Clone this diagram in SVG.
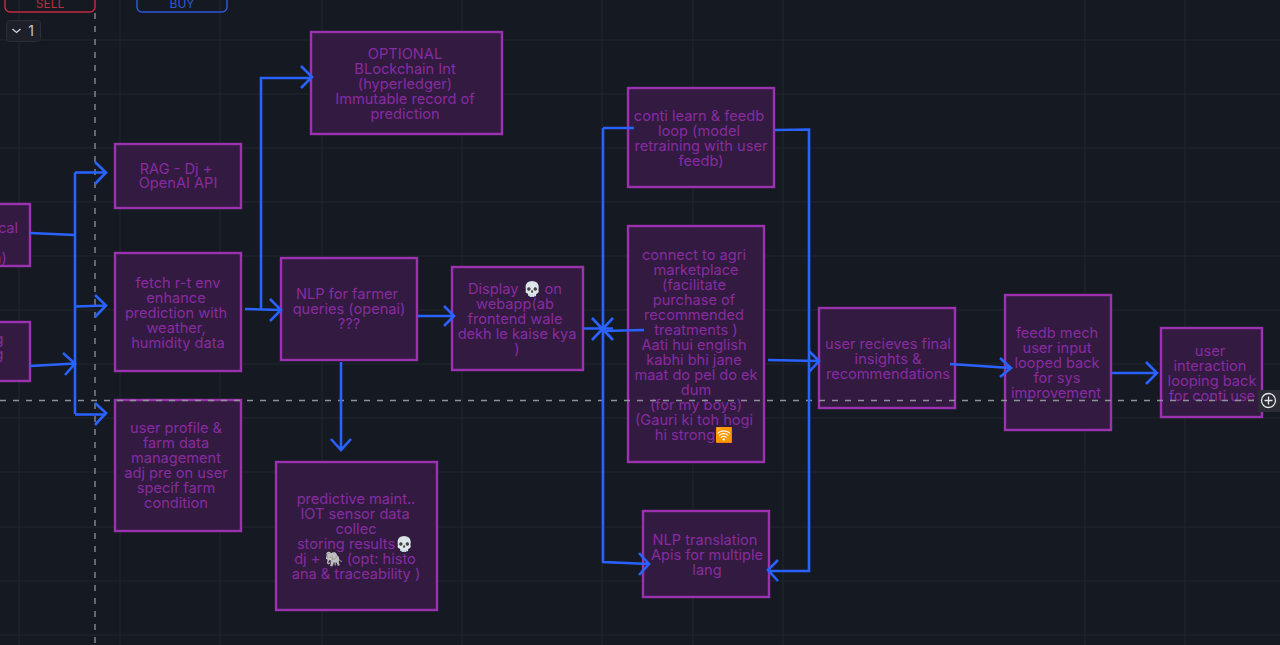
<svg xmlns="http://www.w3.org/2000/svg" width="1280" height="645" viewBox="0 0 1280 645">
<style>
text{font-family:Inter,"Noto Sans",sans-serif}
.g{stroke:#22262f;stroke-width:1;fill:none}
.n rect{fill:#321a40;stroke:#9b33b1;stroke-width:2.400}
.n text{fill:#882ca0;font-size:14.600px;text-anchor:middle}
.c path{fill:none;stroke:#2962ff;stroke-width:2.600;stroke-linejoin:miter}
.d{stroke:#8f9299;stroke-width:1.300;stroke-dasharray:6 7;fill:none}
</style>
<rect width="1280" height="645" fill="#151921"/>
<g id="grid">
<path class="g" d="M19 0V645M120 0V645M220 0V645M322 0V645M462 0V645M602 0V645M693 0V645M783 0V645M1085 0V645M1185 0V645"/>
<path class="g" d="M0 40H1280M0 94H1280M0 148H1280M0 202H1280M0 256H1280M0 310H1280M0 364H1280M0 418H1280M0 472H1280M0 527H1280M0 581H1280M0 635H1280"/>
</g>
<g id="sell"><rect x="5" y="-16" width="90" height="28" rx="5" fill="none" stroke="#c22a43" stroke-width="1.500"/><text x="50" y="8" font-size="12" fill="#c22a43" text-anchor="middle">SELL</text></g>
<g id="buy"><rect x="137" y="-16" width="90" height="28" rx="5" fill="none" stroke="#2d5ad6" stroke-width="1.500"/><text x="182" y="8" font-size="12" fill="#2d5ad6" text-anchor="middle">BUY</text></g>
<g id="collapse"><rect x="6.500" y="20.500" width="34" height="21" rx="3" fill="#1d2028" stroke="#2b2e37"/><path d="M12.500 29l4 3.500 4-3.500" fill="none" stroke="#d1d4dc" stroke-width="1.300"/><text x="31" y="36" font-size="14" fill="#c4c7cf" text-anchor="middle">1</text></g>
<g id="nodes">
<g id="n-historical" class="n"><rect x="-40" y="204" width="70" height="62"/><text x="8" y="233">cal</text><text x="0" y="263">a)</text></g>
<g id="n-ml" class="n"><rect x="-40" y="322" width="70" height="59"/><text x="-1" y="344">g</text><text x="-1" y="359">g</text></g>
<g id="n-rag" class="n"><rect x="115" y="144" width="126" height="64"/><text x="176" y="174">RAG - Dj +</text><text x="178" y="188">OpenAI API</text></g>
<g id="n-fetch" class="n"><rect x="115" y="253" width="126" height="118"/><text x="178" y="288">fetch r-t env</text><text x="176" y="303">enhance</text><text x="176" y="318">prediction with</text><text x="176" y="333">weather,</text><text x="178" y="348">humidity data</text></g>
<g id="n-profile" class="n"><rect x="115" y="400" width="126" height="131"/><text x="176" y="433">user profile &amp;</text><text x="176" y="448">farm data</text><text x="176" y="463">management</text><text x="176" y="478">adj pre on user</text><text x="176" y="493">specif farm</text><text x="176" y="508">condition</text></g>
<g id="n-blockchain" class="n"><rect x="311" y="32" width="191" height="102"/><text x="405" y="59">OPTIONAL</text><text x="405" y="74">BLockchain Int</text><text x="405" y="89">(hyperledger)</text><text x="405" y="104">Immutable record of</text><text x="405" y="119">prediction</text></g>
<g id="n-nlp" class="n"><rect x="281" y="258" width="136" height="102"/><text x="347" y="299">NLP for farmer</text><text x="349" y="314">queries (openai)</text><text x="349" y="329">???</text></g>
<g id="n-maint" class="n"><rect x="276" y="462" width="161" height="148"/><text x="356" y="504">predictive maint..</text><text x="355" y="519">IOT sensor data</text><text x="356" y="534">collec</text><text x="355" y="549">storing results💀</text><text x="355" y="564">dj + 🐘  (opt: histo</text><text x="356" y="579">ana &amp; traceability )</text></g>
<g id="n-display" class="n"><rect x="452" y="267" width="131" height="103"/><text x="515" y="294">Display 💀 on</text><text x="515" y="309">webapp(ab</text><text x="515" y="324">frontend wale</text><text x="517" y="339">dekh le kaise kya</text><text x="517" y="354">)</text></g>
<g id="n-conti" class="n"><rect x="628" y="88" width="146" height="99"/><text x="699" y="121">conti learn &amp; feedb</text><text x="699" y="136">loop (model</text><text x="701" y="151">retraining with user</text><text x="701" y="166">feedb)</text></g>
<g id="n-market" class="n"><rect x="628" y="226" width="136" height="236"/><text x="694" y="260">connect to agri</text><text x="696" y="275">marketplace</text><text x="694" y="290">(facilitate</text><text x="694" y="305">purchase of</text><text x="694" y="320">recommended</text><text x="696" y="335">treatments )</text><text x="694" y="350">Aati hui english</text><text x="694" y="365">kabhi bhi jane</text><text x="696" y="380">maat do pel do ek</text><text x="696" y="395">dum</text><text x="696" y="410">(for my boys)</text><text x="694" y="425">(Gauri ki toh hogi</text><text x="694" y="440">hi strong🛜</text></g>
<g id="n-translate" class="n"><rect x="643" y="511" width="126" height="86"/><text x="705" y="545">NLP translation</text><text x="707" y="560">Apis for multiple</text><text x="707" y="575">lang</text></g>
<g id="n-insights" class="n"><rect x="819" y="308" width="136" height="100"/><text x="888" y="349">user recieves final</text><text x="888" y="364">insights &amp;</text><text x="888" y="379">recommendations</text></g>
<g id="n-feedb" class="n"><rect x="1005" y="295" width="106" height="135"/><text x="1057" y="338">feedb mech</text><text x="1057" y="353">user input</text><text x="1057" y="368">looped back</text><text x="1057" y="383">for sys</text><text x="1056" y="398">improvement</text></g>
<g id="n-interaction" class="n"><rect x="1161" y="328" width="101" height="89"/><text x="1210" y="356">user</text><text x="1210" y="371">interaction</text><text x="1212" y="386">looping back</text><text x="1212" y="401">for conti use</text></g>
</g>
<g id="crosshair">
<path class="d" d="M95 13V645"/>
<path class="d" d="M0 400.500H1258"/>
</g>
<g id="connectors" class="c">
<path d="M30 233L75 235"/>
<path d="M30 366L75 363.500M63 353L75 363.500L65 375"/>
<path d="M75 172.500V414M75 172.500H106M95 162L106 172.500L95 184"/>
<path d="M75 306.500L106 305.500M95 295L106 305.500L95 317"/>
<path d="M75 414.500H106M95 403L106 413L95 425"/>
<path d="M245 309L281 310M270 299L281 310L270 321"/>
<path d="M261 309V78H312M301 66L312 77L301 88"/>
<path d="M417 316H454M444 306L454 316L444 326"/>
<path d="M341 362V449M331 439L341 450L351 439"/>
<path d="M583 328.500H613M592 318L613 340M592 340L613 318"/>
<path d="M603 128H634M603 128V562L649 564M639 553L649 564L639 575"/>
<path d="M644 330L603 331"/>
<path d="M775 130L809 129.500V571L768 571M778 560L768 570L778 581"/>
<path d="M768 360L819 361M809 351L819 361L809 372"/>
<path d="M950 364L1011 368M1000 358L1011 368L1000 377"/>
<path d="M1111 373H1157M1146 362L1157 373L1146 384"/>
</g>
<g id="add"><rect x="1258" y="390" width="22" height="22" fill="#2a2d35"/><circle cx="1268.500" cy="400.500" r="7" fill="none" stroke="#e6e6e6" stroke-width="1.300"/><path d="M1264.500 400.500h8M1268.500 396.500v8" stroke="#e6e6e6" stroke-width="1.300"/></g>
</svg>
